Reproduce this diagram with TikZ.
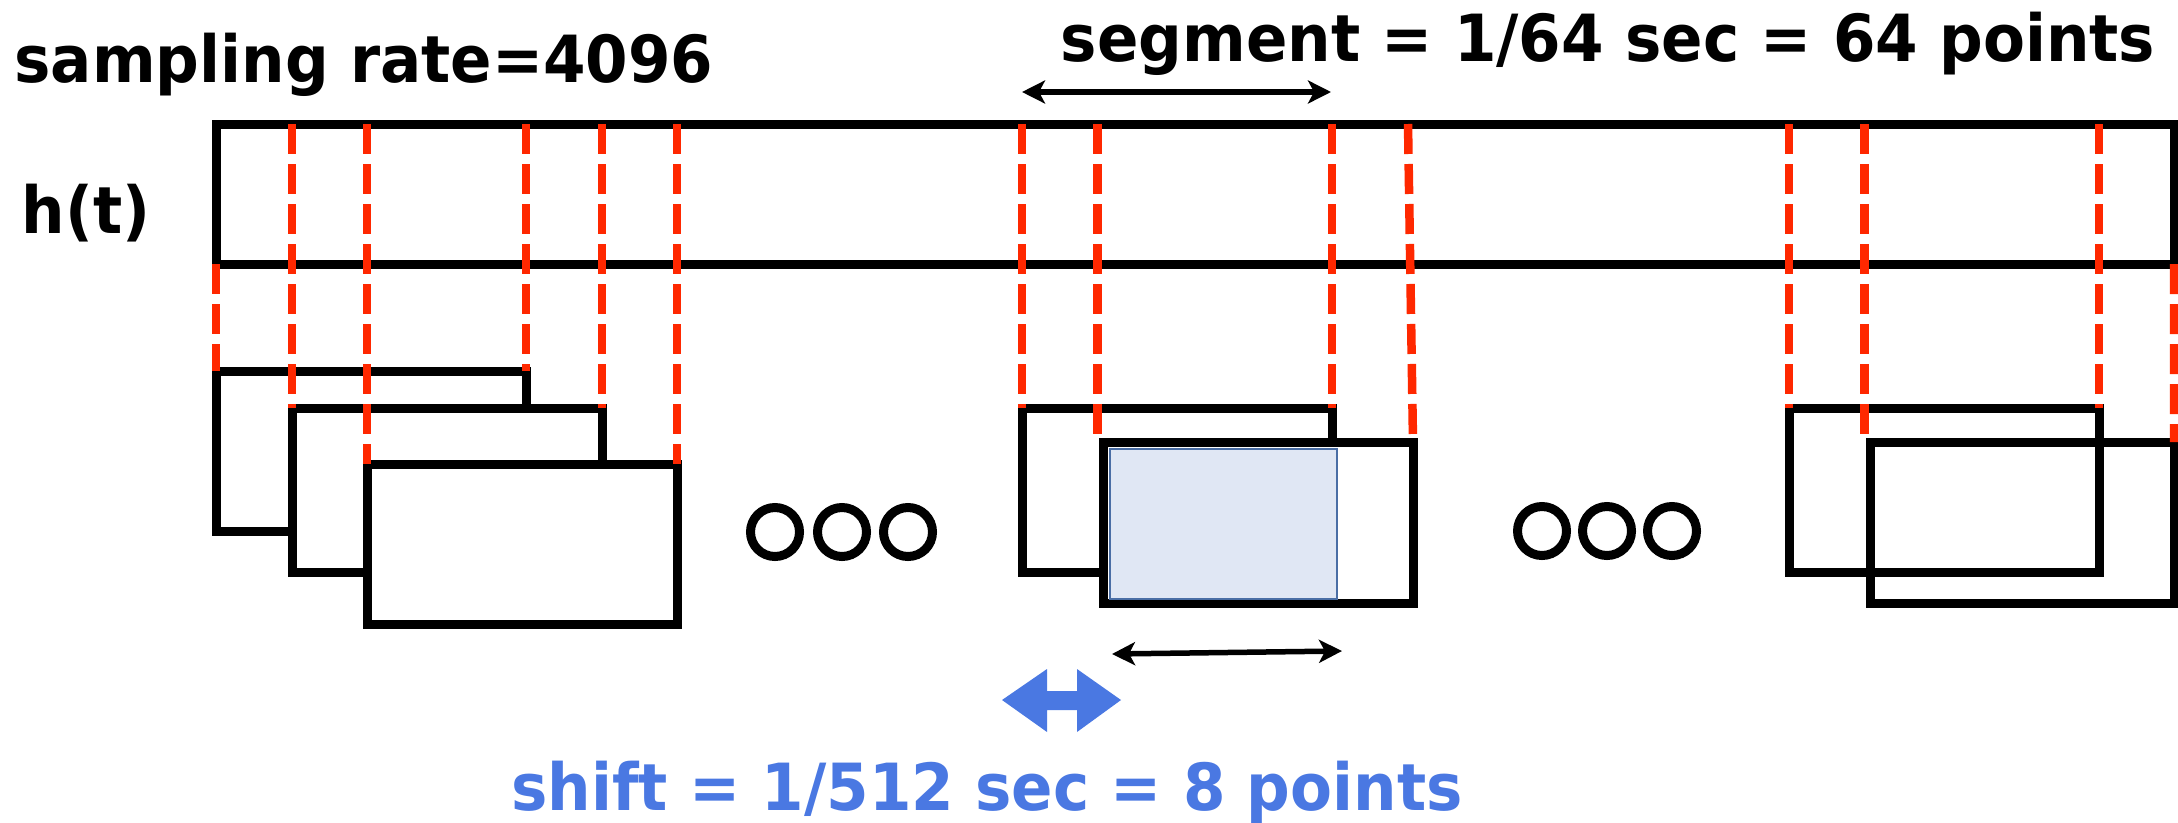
\documentclass[tikz,border=0pt]{standalone}
\usepackage{fontspec}
\setmainfont{DejaVu Sans}
\usetikzlibrary{arrows.meta}
\definecolor{reddash}{RGB}{255,40,0}
\definecolor{shiftblue}{RGB}{74,120,226}
\definecolor{hlfill}{RGB}{224,231,244}
\definecolor{hlborder}{RGB}{74,110,165}
\newcommand{\narrowtxt}[1]{\scalebox{0.94}[1]{#1}}
\begin{document}
\begin{tikzpicture}[x=0.1mm, y=-0.1mm,
  box/.style={draw=black, line width=0.9mm, outer sep=0pt, inner sep=0pt, anchor=north west},
  whitebox/.style={box, fill=white},
  hlbox/.style={draw=hlborder, fill=hlfill, line width=0.22mm, outer sep=0pt, inner sep=0pt, anchor=north west},
  cut/.style={draw=reddash, line width=0.85mm, dash pattern=on 3mm off 1mm},
  lbl/.style={font=\fontsize{18.5pt}{21pt}\selectfont\bfseries, inner sep=0pt},
  dimarrow/.style={line width=0.55mm, {Stealth[length=2.3mm,width=2.3mm,inset=0.6mm]}-{Stealth[length=2.3mm,width=2.3mm,inset=0.6mm]}},
  dotring/.style={circle, draw=black, line width=0.9mm, minimum size=4.9mm, inner sep=0pt}
]
\useasboundingbox (0,0) rectangle (2178,822);

% h(t) strip
\node[box, minimum width=195.8mm, minimum height=14mm] (ht) at (216,124) {};

% left group
\node[whitebox, minimum width=31mm, minimum height=16mm]   (A) at (216,371) {};
\node[whitebox, minimum width=31mm, minimum height=16.4mm] (B) at (292,408) {};
\node[whitebox, minimum width=31mm, minimum height=16mm]   (C) at (367,464) {};

% middle group
\node[whitebox, minimum width=31mm, minimum height=16.4mm] (M1) at (1022,408) {};
\node[whitebox, minimum width=31mm, minimum height=16.1mm] (M2) at (1103,442) {};
\node[hlbox, minimum width=22.7mm, minimum height=15mm] (HL) at (1110,449) {};

% right group
\node[box, minimum width=31mm, minimum height=16.4mm] (R1) at (1789,408) {};
\node[box, minimum width=30.4mm, minimum height=16.1mm] (R2) at (1870,442) {};

% dots
\node[dotring] (d1) at (775,532) {};
\node[dotring] (d2) at (842,532) {};
\node[dotring] (d3) at (908,532) {};
\node[dotring] (d4) at (1542,531) {};
\node[dotring] (d5) at (1607,531) {};
\node[dotring] (d6) at (1672,531) {};

% red dashed guides
\draw[cut] (ht.south west) -- (A.north west);
\draw[cut] (ht.north -| B.north west) -- (B.north west);
\draw[cut] (ht.north -| C.north west) -- (C.north west);
\draw[cut] (ht.north -| A.north east) -- (A.north east);
\draw[cut] (ht.north -| B.north east) -- (B.north east);
\draw[cut] (ht.north -| C.north east) -- (C.north east);

\draw[cut] (ht.north -| M1.north west) -- (M1.north west);
\draw[cut] ([xshift=-0.55mm]ht.north -| M2.north west) -- ([xshift=-0.55mm]M2.north west);
\draw[cut] (ht.north -| M1.north east) -- (M1.north east);
\draw[cut] ([xshift=-0.5mm]ht.north -| M2.north east) -- (M2.north east);

\draw[cut] (ht.north -| R1.north west) -- (R1.north west);
\draw[cut] ([xshift=-0.55mm]ht.north -| R2.north west) -- ([xshift=-0.55mm]R2.north west);
\draw[cut] (ht.north -| R1.north east) -- (R1.north east);
\draw[cut] (ht.south east) -- (R2.north east);

% dimension arrows
\coordinate (segL) at (1022,92);
\coordinate (segR) at (1331,92);
\draw[dimarrow] (segL) -- (segR);
\coordinate (winL) at (1112,654);
\coordinate (winR) at (1342,651);
\draw[dimarrow] (winL) -- (winR);

% blue shift arrow
\fill[shiftblue] (1002,700) -- (1047,669) -- (1047,691) -- (1077,691) -- (1077,669)
  -- (1121,700) -- (1077,732) -- (1077,710) -- (1047,710) -- (1047,732) -- cycle;

% labels
\node[lbl, anchor=base] (rate) at (364,82) {\narrowtxt{sampling rate=4096}};
\node[lbl, anchor=base west] (hlab) at (21,233) {\narrowtxt{h(t)}};
\node[lbl, anchor=base] (seg) at (1608,61) {\narrowtxt{segment = 1/64 sec = 64 points}};
\node[lbl, anchor=base, text=shiftblue] (shift) at (987,810) {\narrowtxt{shift = 1/512 sec = 8 points}};
\end{tikzpicture}
\end{document}
